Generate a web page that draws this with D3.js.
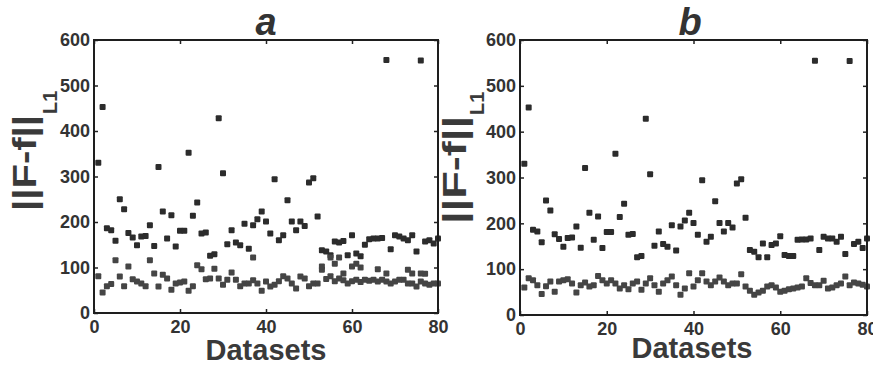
<!DOCTYPE html>
<html><head><meta charset="utf-8">
<script src="https://cdn.jsdelivr.net/npm/d3@7"></script>
<style>
body{margin:0;background:#fff;}
svg{display:block;font-family:"Liberation Sans",Arial,sans-serif;}
</style></head>
<body><svg id="c" width="873" height="366"></svg>
<script>
// ---------- data ----------
const xTicks = [0, 20, 40, 60, 80];
const yTicks = [0, 100, 200, 300, 400, 500, 600];
const panelTitles = ["a", "b"];
const xLabel = "Datasets";

// panel a
const aHigh = [330,453,186,182,159,250,228,176,166,149,
               168,169,193,147,321,223,164,215,146,181,
               181,352,214,243,175,177,126,129,428,307,
               151,182,155,149,196,141,193,206,223,201,
               175,294,160,171,248,201,182,201,191,287,
               296,212,138,135,127,157,155,158,127,171,
               131,125,150,162,164,164,165,556,140,171,
               168,164,160,171,135,555,157,160,153,164];
const aLow  = [81,45,59,64,116,80,59,102,74,69,
               65,59,116,87,58,84,76,51,65,67,
               69,49,59,105,96,74,76,97,76,62,
               73,89,73,59,65,65,72,65,49,69,
               58,62,70,81,76,65,54,80,76,59,
               65,65,95,75,81,70,76,72,65,70,
               73,68,73,71,73,69,73,69,65,69,
               73,73,65,65,58,69,65,62,65,65];
const aMidIdx = [37,53,55,56,57,58,60,61,62,66,68,73,74,76,77];
const aMidVal = [122,102,122,108,122,87,102,108,100,96,87,95,87,87,86];

// panel b
const bHigh = [330,453,186,182,159,250,228,176,166,149,
               168,169,193,147,321,223,164,215,146,181,
               181,352,214,243,175,177,126,129,428,307,
               151,182,155,149,196,141,193,206,223,201,
               175,294,160,171,248,201,182,201,191,287,
               296,212,142,138,126,156,126,153,156,172,
               131,129,129,164,165,165,167,555,142,171,
               167,167,160,171,133,554,155,160,146,167];
const bLow  = [60,80,76,65,46,63,73,51,73,76,
               78,69,49,65,71,62,65,85,76,69,
               76,69,58,65,56,69,73,55,69,80,
               65,51,69,76,84,65,44,58,91,62,
               76,91,73,65,73,82,73,65,69,69,
               89,62,53,44,49,53,62,65,60,51,
               53,56,58,60,62,80,70,65,65,75,
               58,60,65,69,84,65,71,69,66,62];

// ---------- drawing ----------
const svg = d3.select("#c");

const panels = [
  {title: panelTitles[0], xr:[94,438], yr:[313,40], high:aHigh, low:aLow, midIdx:aMidIdx, midVal:aMidVal,
   titleX:266, labX:36, labY:211, labLen:96, subX:57, subY:114, xlabX:266, xlabY:360},
  {title: panelTitles[1], xr:[520,867], yr:[315,40], high:bHigh, low:bLow, midIdx:[], midVal:[],
   titleX:690, labX:466, labY:224, labLen:108, subX:484, subY:115, xlabX:692, xlabY:358}
];

panels.forEach(p => {
  const x = d3.scaleLinear().domain([0, 80]).range(p.xr);
  const y = d3.scaleLinear().domain([0, 600]).range(p.yr);
  const g = svg.append("g");

  // points
  const ms = 6;
  const pts = [];
  p.high.forEach((v,i) => pts.push({x:i+1, y:v, c:"#2c2c2c"}));
  p.low.forEach((v,i) => pts.push({x:i+1, y:v, c:"#454545"}));
  p.midIdx.forEach((d,i) => pts.push({x:d, y:p.midVal[i], c:"#454545"}));
  g.selectAll("rect.pt").data(pts).join("rect")
    .attr("class","pt")
    .attr("x", d => x(d.x) - ms/2).attr("y", d => y(d.y) - ms/2)
    .attr("width", ms).attr("height", ms).attr("rx", 1)
    .attr("fill", d => d.c);

  // axes
  const axB = d3.axisBottom(x).tickValues(xTicks).tickSize(-4).tickSizeOuter(0).tickPadding(7);
  const axT = d3.axisTop(x).tickValues(xTicks).tickSize(-4).tickSizeOuter(0).tickFormat("");
  const axL = d3.axisLeft(y).tickValues(yTicks).tickSize(-4).tickSizeOuter(0).tickPadding(4);
  const axR = d3.axisRight(y).tickValues(yTicks).tickSize(-4).tickSizeOuter(0).tickFormat("");
  const style = sel => {
    sel.select(".domain").remove();
    sel.selectAll(".tick line").attr("stroke","#222").attr("stroke-width",1.5);
    sel.selectAll(".tick text").attr("fill","#333").style("font-size","18px").style("font-weight","bold")
       .style("font-family","'Liberation Sans',Arial,sans-serif");
  };
  g.append("g").attr("transform",`translate(0,${p.yr[0]})`).call(axB).call(style);
  g.append("g").attr("transform",`translate(0,${p.yr[1]})`).call(axT).call(style);
  g.append("g").attr("transform",`translate(${p.xr[0]},0)`).call(axL).call(style);
  g.append("g").attr("transform",`translate(${p.xr[1]},0)`).call(axR).call(style);
  g.append("rect").attr("x",p.xr[0]).attr("y",p.yr[1])
    .attr("width",p.xr[1]-p.xr[0]).attr("height",p.yr[0]-p.yr[1])
    .attr("fill","none").attr("stroke","#1e1e1e").attr("stroke-width",2);

  // title
  g.append("text").attr("x",p.titleX).attr("y",35).attr("text-anchor","middle")
    .attr("fill","#333").style("font-size","38px").style("font-weight","bold").style("font-style","italic")
    .text(p.title);

  // x label
  g.append("text").attr("x",p.xlabX).attr("y",p.xlabY).attr("text-anchor","middle")
    .attr("fill","#3a3a3a").style("font-size","29px").style("font-weight","bold").text(xLabel);

  // y label ||F-f||_L1
  g.append("text").attr("transform",`translate(${p.labX},${p.labY}) rotate(-90)`)
    .attr("fill","#3a3a3a").style("font-size","33px").style("font-weight","bold")
    .attr("textLength", p.labLen).attr("lengthAdjust","spacingAndGlyphs")
    .text("||F-f||");
  g.append("text").attr("transform",`translate(${p.subX},${p.subY}) rotate(-90)`)
    .attr("fill","#3a3a3a").style("font-size","20px").style("font-weight","bold")
    .text("L1");
});
</script></body></html>
